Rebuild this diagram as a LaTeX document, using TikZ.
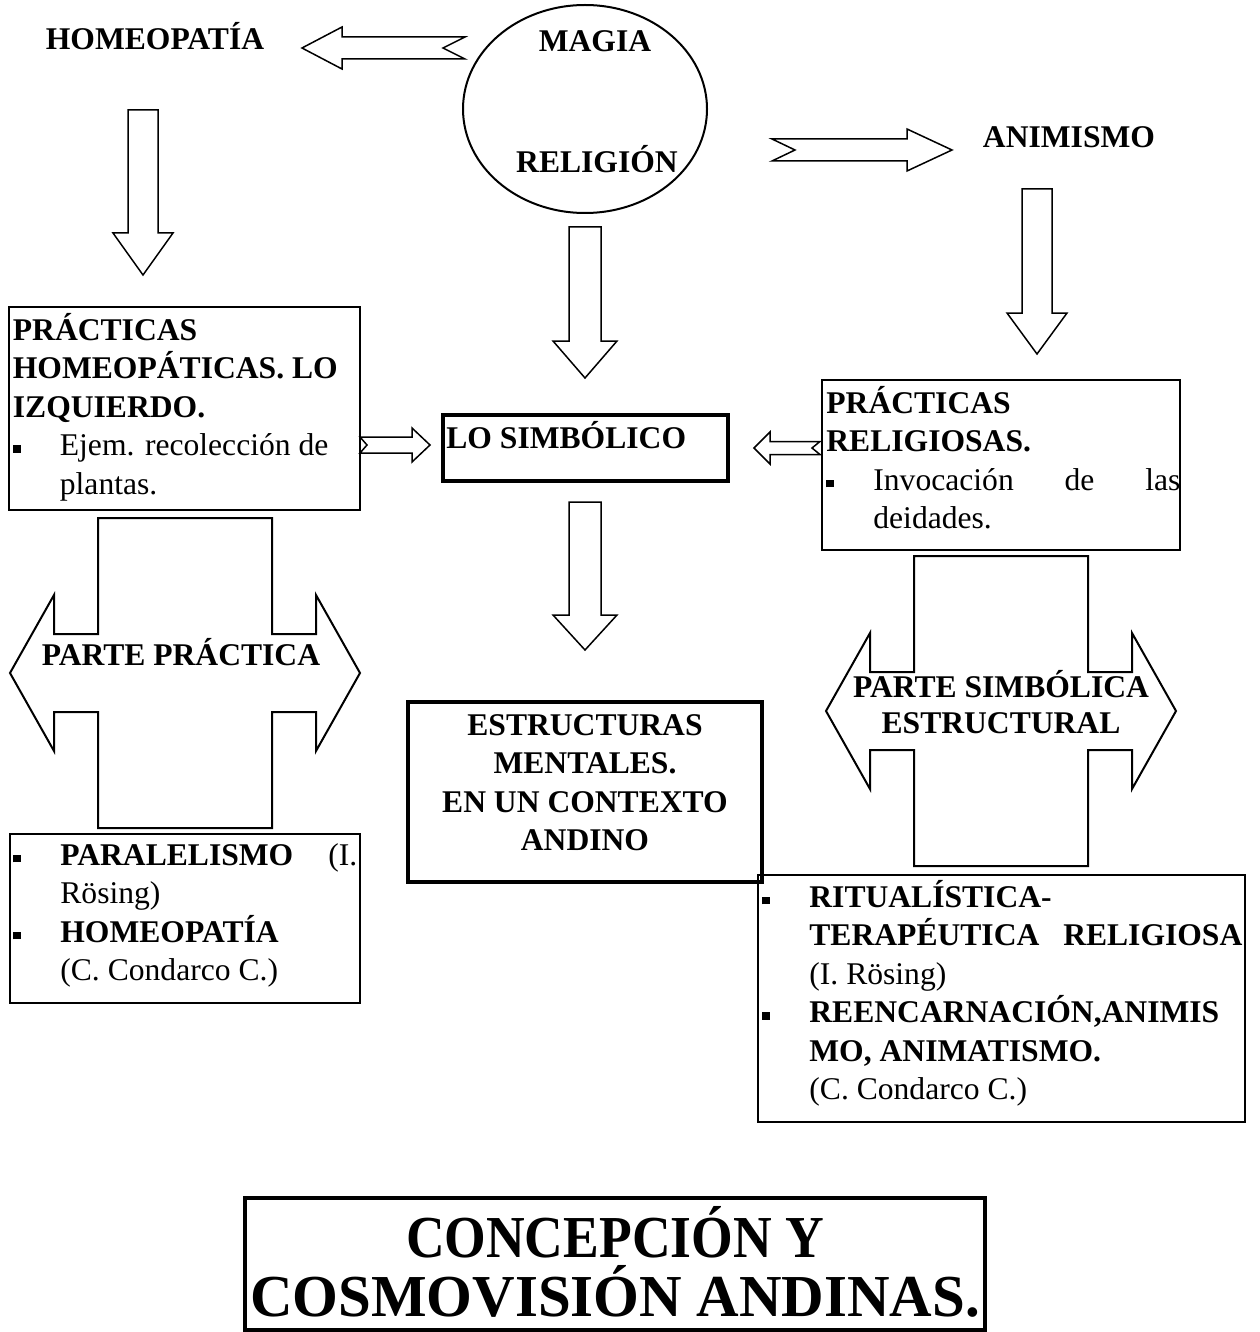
\documentclass[tikz,border=0pt]{standalone}
\usepackage{fontspec}
\setmainfont{Liberation Serif}[BoldFont={Liberation Serif Bold}]
\usetikzlibrary{shapes.geometric,fit}
\newcommand\fl{\rule{0pt}{15.8pt}}
\newcommand\bul{\makebox[23.5pt][l]{\rule[1.5pt]{3.8pt}{3.8pt}}}
\newcommand\ind{\hspace*{23.5pt}}

\begin{document}
\begin{tikzpicture}[x=0.5pt,y=-0.5pt,
    box/.style={draw,line width=1.1pt,inner sep=0pt},
    thickbox/.style={box,line width=1.6pt},
    txt/.style={inner sep=0pt,align=left,anchor=north west,
      font=\bfseries\fontsize{15.8}{19.25}\selectfont},
    lbl/.style={inner sep=0pt,anchor=base,
      font=\bfseries\fontsize{15.8}{19.25}\selectfont},
    arr/.style={draw,line width=0.75pt,line join=miter},
    cross/.style={draw,line width=1pt},
    pics/blockarr/.style n args={5}{code={
      \draw[arr] (0,-#2) -- ({#1-#4},-#2) -- ({#1-#4},-#3) -- (#1,0)
        -- ({#1-#4},#3) -- ({#1-#4},#2) -- (0,#2) -- (#5,0) -- cycle;}},
    pics/crossarrow/.style={code={
      \draw[cross] (-87,-155) -- (87,-155) -- (87,-39) -- (131,-39)
        -- (131,-78) -- (175,0) -- (131,78) -- (131,39) -- (87,39)
        -- (87,155) -- (-87,155) -- (-87,39) -- (-131,39) -- (-131,78)
        -- (-175,0) -- (-131,-78) -- (-131,-39) -- (-87,-39) -- cycle;}}]
\useasboundingbox (0,0) rectangle (1259,1332);

% top row
\node[lbl] (homeo) at (155,50) {HOMEOPATÍA};
\node[box,ellipse,line width=1pt,minimum width=122pt,minimum height=104pt] (mr) at (585,109) {};
\node[lbl] (magia) at (595,52) {MAGIA};
\node[lbl] (relig) at (597,173) {RELIGIÓN};
\node[lbl] (anim) at (1069,148) {ANIMISMO};
\pic[rotate=180] at (465,48) {blockarr={163}{11}{21}{40}{22}};
\pic at (772,150) {blockarr={180}{11}{21}{45}{23}};

% down arrows
\pic[rotate=-90] at (143,110) {blockarr={165}{15}{30}{42}{0}};
\pic[rotate=-90] at (1037,189) {blockarr={165}{15}{30}{41}{0}};
\pic[rotate=-90] at (585,227) {blockarr={151}{16}{32}{37}{0}};
\pic[rotate=-90] at (585,502) {blockarr={148}{16}{32}{35}{0}};

% middle row
\node[box,fit={(9,307) (360,510)}] (pracHom) {};
\node[txt] (pracHomTxt) at (12.5,308.4) {\fl PRÁCTICAS\\HOMEOPÁTICAS. LO\\IZQUIERDO.\\
  \bul{\mdseries Ejem. recolección de}\\\ind{\mdseries plantas.}};
\node[thickbox,fit={(443,415) (728,481)}] (simb) {};
\node[txt] (simbTxt) at (446,416.4) {\fl LO SIMBÓLICO};
\node[box,fit={(822,380) (1180,550)}] (pracRel) {};
\node[txt] (pracRelTxt) at (826,381.4) {\fl PRÁCTICAS\\RELIGIOSAS.\\
  \bul{\mdseries\makebox[153.5pt][s]{Invocación de las}}\\\ind{\mdseries deidades.}};
\pic at (360,445) {blockarr={70}{8}{17}{18}{7}};
\pic[rotate=180] at (820,448) {blockarr={66}{6.5}{16}{16}{8}};

% crosses
\pic at (185,673) {crossarrow};
\node[lbl] (partePrac) at (181,665) {PARTE PRÁCTICA};
\pic at (1001,711) {crossarrow};
\node[txt,align=center,anchor=north,font=\bfseries\fontsize{15.8}{18}\selectfont]
  (parteSimb) at (1001,665.4) {\fl PARTE SIMBÓLICA\\ESTRUCTURAL};

% lower boxes
\node[thickbox,fit={(408,702) (762,882)}] (estr) {};
\node[txt,align=center,anchor=north] (estrTxt) at (585,703.4)
  {\fl ESTRUCTURAS\\MENTALES.\\EN UN CONTEXTO\\ANDINO};
\node[box,fit={(10,834) (360,1003)}] (paral) {};
\node[txt] (paralTxt) at (13,833.4) {\fl\bul\makebox[148.5pt][s]{PARALELISMO {\mdseries (I.}}\\
  \ind{\mdseries Rösing)}\\\bul HOMEOPATÍA\\\ind{\mdseries (C. Condarco C.)}};
\node[box,fit={(758,875) (1245,1122)}] (ritual) {};
\node[txt] (ritualTxt) at (762,875.4) {\fl\bul RITUALÍSTICA-\\
  \ind\makebox[216.5pt][s]{TERAPÉUTICA RELIGIOSA}\\\ind{\mdseries (I. Rösing)}\\
  \bul REENCARNACIÓN,ANIMIS\\\ind MO, ANIMATISMO.\\\ind{\mdseries (C. Condarco C.)}};

% title
\node[thickbox,fit={(245,1198) (985,1330)}] (title) {};
\node[txt,align=center,anchor=north,font=\bfseries\fontsize{29.75}{29.5}\selectfont]
  (titleTxt) at (615,1197.5) {\rule{0pt}{29.75pt}\scalebox{0.9}[1]{CONCEPCIÓN Y}\\
  \scalebox{0.99}[1]{COSMOVISIÓN ANDINAS.}};
\end{tikzpicture}
\end{document}
